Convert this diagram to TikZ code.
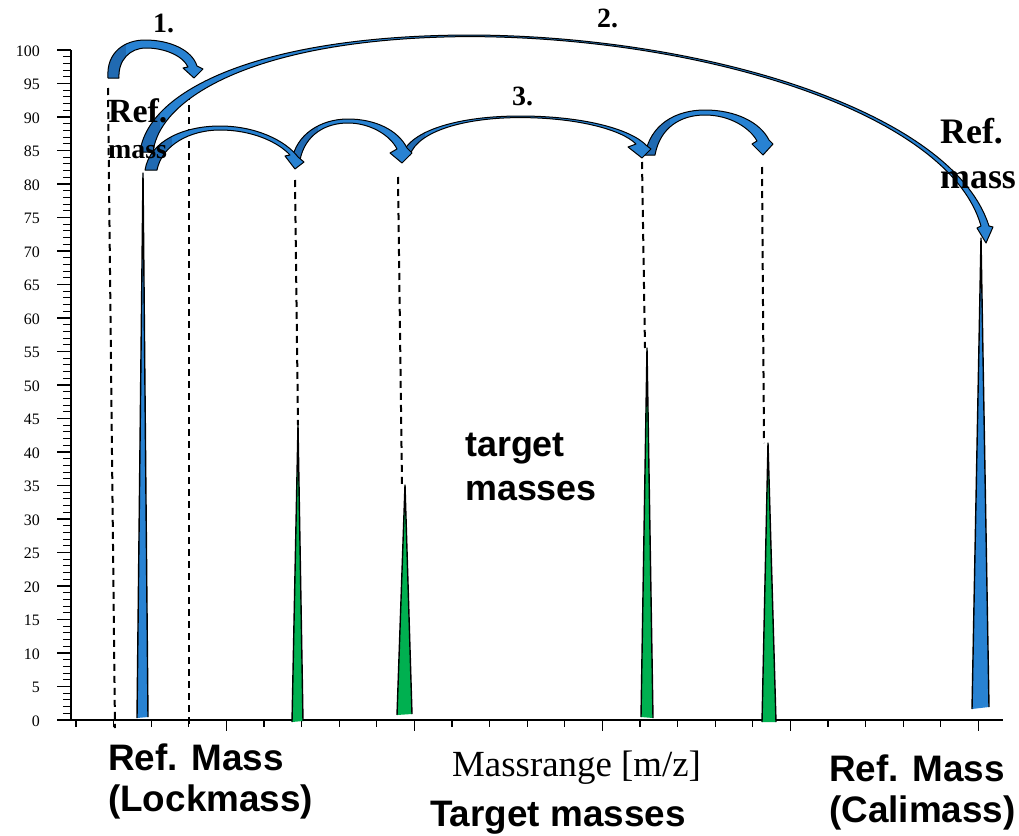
\documentclass[tikz,border=0pt]{standalone}
\usepackage{fontspec}
\setmainfont{Liberation Serif}
\newfontfamily\sansf{Liberation Sans}
\definecolor{arrblue}{RGB}{40,130,210}
\definecolor{arrdark}{RGB}{32,106,178}
\definecolor{pkgreen}{RGB}{0,176,80}
\tikzset{
  arrline/.style={draw=black, line width=1bp, line join=round},
  peakline/.style={draw=black, line width=1.4bp, line join=round},
  dashln/.style={draw=black, dash pattern=on 7bp off 5bp, line width=2bp},
  axisln/.style={draw=black, line width=1.5bp},
  tickln/.style={draw=black, line width=1.1bp},
  numlbl/.style={anchor=east, inner sep=0pt, font=\fontsize{16}{16}\selectfont},
  txt/.style={anchor=base west, inner sep=0pt},
}
% arrow outlines
\newcommand\arrTwoPath{(140,152) .. controls (148,90) and (260,36) .. (467,35)
  .. controls (700,35) and (952,110) .. (989,226) -- (993,227) -- (986,243)
  -- (977,228) -- (981,226) .. controls (949,112) and (700,36.6) .. (467,36.6)
  .. controls (262,38) and (160,95) .. (153,152) -- cycle}
\newcommand\arrThreeDPath{(645,155) .. controls (650,125) and (675,110) .. (705,110)
  .. controls (735,110) and (760,122) .. (769,140) -- (773,144) -- (763,155)
  -- (752,144) -- (757,141) .. controls (750,128) and (730,115) .. (705,115)
  .. controls (680,115) and (660,128) .. (655,155) -- cycle}
\newcommand\arrThreeCPath{(402,155) .. controls (410,130) and (460,116) .. (520,116)
  .. controls (580,116) and (630,128) .. (647,146) -- (651,149) -- (642,158)
  -- (628,147) -- (636,144) .. controls (621,129) and (575,117.6) .. (520,117.6)
  .. controls (465,117.6) and (418,131) .. (410,155) -- cycle}
\newcommand\arrThreeBPath{(292,160) .. controls (296,135) and (320,119) .. (348,119)
  .. controls (375,119) and (398,130) .. (407,148) -- (412,153) -- (402,163)
  -- (390,153) -- (397,149) .. controls (390,135) and (370,123) .. (348,123)
  .. controls (325,123) and (305,135) .. (300,160) -- cycle}
\newcommand\arrThreeAPath{(145,170) .. controls (150,140) and (185,126) .. (220,126)
  .. controls (255,126) and (285,140) .. (298,157) -- (304,162) -- (295,169)
  -- (285,156) -- (290,155) .. controls (278,142) and (252,130) .. (220,130)
  .. controls (190,130) and (162,145) .. (157,170) -- cycle}
\newcommand\arrOnePath{(108,78) .. controls (106,52) and (125,40) .. (145,40)
  .. controls (170,40) and (192,50) .. (197,66) -- (203,69) -- (194,78)
  -- (183,68) -- (188,67) .. controls (183,56) and (165,48) .. (146,48)
  .. controls (130,48) and (118,60) .. (119,78) -- cycle}
% draw a curved arrow: path, x limit of the darker underside
\newcommand\curvedarrow[2]{%
  \fill[arrblue] #1;
  \begin{scope}
    \clip #1;
    \fill[arrdark] (0,0) rectangle (#2,300);
  \end{scope}
  \path[arrline] #1;
}
\begin{document}
\begin{tikzpicture}[x=1bp,y=-1bp]
\useasboundingbox (0,0) rectangle (1019,836);

% ---------- axes ----------
\coordinate (yTop) at (71,50);
\coordinate (yBot) at (71,720);
\coordinate (xLeft) at (57,720);
\coordinate (xRight) at (1003,720);
\draw[axisln] (yTop) -- (yBot);
\draw[axisln] (xLeft) -- (xRight);
\foreach \v in {1,...,100}{
  \draw[tickln] (63,{720-6.7*\v}) -- (71,{720-6.7*\v});
}
\foreach \v in {0,5,...,100}{
  \draw[tickln] (57,{720-6.7*\v}) -- (71,{720-6.7*\v});
  \node[numlbl] (lbl\v) at (40,{721-6.7*\v}) {\v};
}
\foreach \k in {0,...,24}{
  \draw[tickln] ({76+37.6*\k},720) -- ({76+37.6*\k},727);
}
\foreach \k in {4,9,14,19,24}{
  \draw[tickln] ({76+37.6*\k},720) -- ({76+37.6*\k},731);
}

% ---------- peaks ----------
\coordinate (p1) at (143,173);
\coordinate (p2) at (298,425);
\coordinate (p3) at (405,485);
\coordinate (p4) at (647,348);
\coordinate (p5) at (768,443);
\coordinate (p6) at (981,238);
\fill[arrblue] (137,718) -- (p1) -- (148,717) -- cycle;
\draw[peakline] (137,718) -- (p1) -- (148,717);
\fill[pkgreen] (292,722) -- (p2) -- (303,721) -- cycle;
\draw[peakline] (292,722) -- (p2) -- (303,721);
\fill[pkgreen] (397,715) -- (p3) -- (412,714) -- cycle;
\draw[peakline] (397,715) -- (p3) -- (412,714);
\fill[pkgreen] (641,717) -- (p4) -- (653,718) -- cycle;
\draw[peakline] (641,717) -- (p4) -- (653,718);
\fill[pkgreen] (762,722) -- (p5) -- (776,722) -- cycle;
\draw[peakline] (762,722) -- (p5) -- (776,722);
\fill[arrblue] (972,709) -- (p6) -- (989,707) -- cycle;
\draw[peakline] (972,709) -- (p6) -- (989,707);

% ---------- dashed guide lines ----------
\coordinate (d1a) at (108,88);  \coordinate (d1b) at (115,728);
\coordinate (d2a) at (189,93);  \coordinate (d2b) at (189,728);
\coordinate (d3a) at (295,180);
\coordinate (d4a) at (398,177);
\coordinate (d5a) at (642,162);
\coordinate (d6a) at (762,167);
\draw[dashln] (d1a) -- (d1b);
\draw[dashln] (d2a) -- (d2b);
\draw[dashln] (d3a) -- (p2);
\draw[dashln] (d4a) -- ([xshift=-3bp]p3);
\draw[dashln] (d5a) -- ([xshift=-2bp]p4);
\draw[dashln] (d6a) -- ([xshift=-4bp]p5);

% ---------- curved arrows ----------
\curvedarrow{\arrTwoPath}{160}
\curvedarrow{\arrThreeDPath}{670}
\curvedarrow{\arrThreeCPath}{425}
\curvedarrow{\arrThreeBPath}{318}
\curvedarrow{\arrThreeAPath}{172}
\curvedarrow{\arrOnePath}{126}

% ---------- labels ----------
\node[txt, font=\bfseries\fontsize{28}{28}\selectfont] (n1) at (153,32) {1.};
\node[txt, font=\bfseries\fontsize{28}{28}\selectfont] (n2) at (597,27) {2.};
\node[txt, font=\bfseries\fontsize{28}{28}\selectfont] (n3) at (512,105) {3.};
\node[txt, font=\bfseries\fontsize{34}{34}\selectfont] (refL) at (108,122) {Ref.};
\node[txt, font=\bfseries\fontsize{28}{28}\selectfont] (massL) at (108,158) {mass};
\node[txt, font=\bfseries\fontsize{36}{36}\selectfont] (refR) at (940,143) {Ref.};
\node[txt, font=\bfseries\fontsize{36}{36}\selectfont] (massR) at (940,188) {mass};
\node[txt, font=\sansf\bfseries\fontsize{36}{36}\selectfont] (tgt1) at (465,456) {target};
\node[txt, font=\sansf\bfseries\fontsize{36}{36}\selectfont] (tgt2) at (465,500) {masses};
\node[txt, font=\sansf\bfseries\fontsize{37}{37}\selectfont] (lock1) at (108,770) {Ref. Mass};
\node[txt, font=\sansf\bfseries\fontsize{37}{37}\selectfont] (lock2) at (108,811) {(Lockmass)};
\node[txt, font=\fontsize{37}{37}\selectfont] (xlab) at (452,776) {Massrange [m/z]};
\node[txt, font=\sansf\bfseries\fontsize{37}{37}\selectfont] (tgt3) at (430,826) {Target masses};
\node[txt, font=\sansf\bfseries\fontsize{37}{37}\selectfont] (cali1) at (829,781) {Ref. Mass};
\node[txt, font=\sansf\bfseries\fontsize{37}{37}\selectfont] (cali2) at (829,822) {(Calimass)};
\end{tikzpicture}
\end{document}
